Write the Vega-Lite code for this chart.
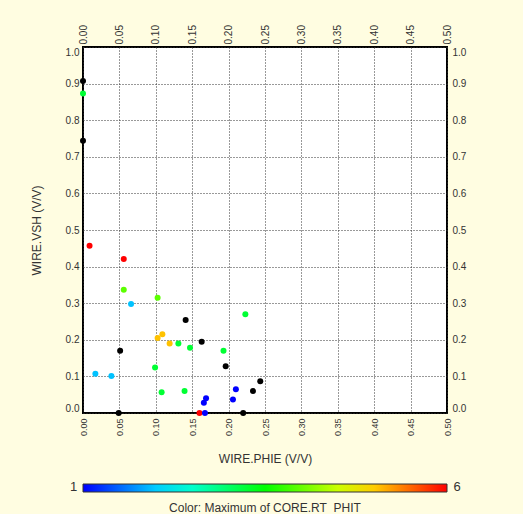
{
  "$schema": "https://vega.github.io/schema/vega-lite/v6.json",
  "width": 364,
  "height": 366,
  "autosize": {"type": "none"},
  "padding": {"left": 83, "top": 47, "right": 76, "bottom": 101},
  "background": "#fffde1",
  "config": {
    "view": {"stroke": "#000000", "strokeWidth": 2, "fill": "#ffffff"},
    "font": "Liberation Sans",
    "axis": {"ticks": false, "domain": false, "labelColor": "#333333", "titleColor": "#333333", "titleFontWeight": "normal", "titleFontSize": 12, "labelFontSize": 10}
  },
  "data": {
    "values": [
      {"phie": 0.0, "vsh": 0.907, "rt": null},
      {"phie": 0.0, "vsh": 0.873, "rt": 3.25},
      {"phie": 0.0, "vsh": 0.744, "rt": null},
      {"phie": 0.009, "vsh": 0.457, "rt": 6.0},
      {"phie": 0.056, "vsh": 0.421, "rt": 6.0},
      {"phie": 0.056, "vsh": 0.337, "rt": 3.95},
      {"phie": 0.066, "vsh": 0.298, "rt": 1.95},
      {"phie": 0.1025, "vsh": 0.315, "rt": 3.95},
      {"phie": 0.141, "vsh": 0.254, "rt": null},
      {"phie": 0.1025, "vsh": 0.205, "rt": 5.05},
      {"phie": 0.109, "vsh": 0.215, "rt": 5.05},
      {"phie": 0.119, "vsh": 0.19, "rt": 5.05},
      {"phie": 0.131, "vsh": 0.19, "rt": 3.25},
      {"phie": 0.147, "vsh": 0.178, "rt": 3.25},
      {"phie": 0.163, "vsh": 0.195, "rt": null},
      {"phie": 0.193, "vsh": 0.17, "rt": 3.25},
      {"phie": 0.223, "vsh": 0.27, "rt": 3.25},
      {"phie": 0.051, "vsh": 0.17, "rt": null},
      {"phie": 0.017, "vsh": 0.107, "rt": 1.95},
      {"phie": 0.039, "vsh": 0.101, "rt": 1.95},
      {"phie": 0.099, "vsh": 0.124, "rt": 3.25},
      {"phie": 0.196, "vsh": 0.128, "rt": null},
      {"phie": 0.108, "vsh": 0.057, "rt": 3.25},
      {"phie": 0.1395, "vsh": 0.06, "rt": 3.25},
      {"phie": 0.166, "vsh": 0.028, "rt": 1.0},
      {"phie": 0.169, "vsh": 0.04, "rt": 1.0},
      {"phie": 0.206, "vsh": 0.037, "rt": 1.0},
      {"phie": 0.21, "vsh": 0.065, "rt": 1.0},
      {"phie": 0.2335, "vsh": 0.06, "rt": null},
      {"phie": 0.2435, "vsh": 0.087, "rt": null},
      {"phie": 0.049, "vsh": 0.0, "rt": null},
      {"phie": 0.16, "vsh": 0.0, "rt": 6.0},
      {"phie": 0.1675, "vsh": 0.0, "rt": 1.0},
      {"phie": 0.22, "vsh": 0.0, "rt": null}
    ]
  },
  "resolve": {"axis": {"x": "independent", "y": "independent"}},
  "layer": [
    {
      "transform": [{"filter": "datum.rt == null"}],
      "mark": {"type": "circle", "size": 36, "opacity": 1, "color": "#000000"},
      "encoding": {
        "x": {
          "field": "phie", "type": "quantitative",
          "scale": {"domain": [0, 0.5], "nice": false},
          "axis": {
            "orient": "top", "title": null, "grid": false,
            "values": [0, 0.05, 0.1, 0.15, 0.2, 0.25, 0.3, 0.35, 0.4, 0.45, 0.5],
            "format": ".2f", "labelAngle": -90, "labelFlush": true, "labelPadding": 3, "labelFontSize": 10
          }
        },
        "y": {
          "field": "vsh", "type": "quantitative",
          "scale": {"domain": [0, 1], "nice": false},
          "axis": {
            "orient": "right", "title": null, "grid": false,
            "values": [0, 0.1, 0.2, 0.3, 0.4, 0.5, 0.6, 0.7, 0.8, 0.9, 1],
            "format": ".1f", "labelFlush": true, "labelPadding": 5, "labelFontSize": 10
          }
        }
      }
    },
    {
      "transform": [{"filter": "datum.rt != null"}],
      "mark": {"type": "circle", "size": 36, "opacity": 1},
      "encoding": {
        "x": {
          "field": "phie", "type": "quantitative",
          "scale": {"domain": [0, 0.5], "nice": false},
          "axis": {
            "orient": "bottom", "title": "WIRE.PHIE (V/V)", "grid": true,
            "gridDash": [1, 2], "gridColor": "#333333", "gridOpacity": 1,
            "values": [0, 0.05, 0.1, 0.15, 0.2, 0.25, 0.3, 0.35, 0.4, 0.45, 0.5],
            "format": ".2f", "labelAngle": -90, "labelFlush": true, "labelPadding": 5, "labelFontSize": 9,
            "titlePadding": 18
          }
        },
        "y": {
          "field": "vsh", "type": "quantitative",
          "scale": {"domain": [0, 1], "nice": false},
          "axis": {
            "orient": "left", "title": "WIRE.VSH (V/V)", "grid": true,
            "gridDash": [1, 2], "gridColor": "#333333", "gridOpacity": 1,
            "values": [0, 0.1, 0.2, 0.3, 0.4, 0.5, 0.6, 0.7, 0.8, 0.9, 1],
            "format": ".1f", "labelFlush": true, "labelPadding": 4, "labelFontSize": 10,
            "titlePadding": 22
          }
        },
        "color": {
          "field": "rt", "type": "quantitative",
          "scale": {"domain": [1, 6], "interpolate": "rgb", "range": ["#0000ff", "#00ffff", "#00ff00", "#ffff00", "#ff0000"]},
          "legend": {
            "orient": "none", "legendX": 0, "legendY": 437, "direction": "horizontal",
            "gradientLength": 364, "gradientThickness": 8,
            "gradientStrokeColor": "#333333", "gradientStrokeWidth": 1,
            "title": "Color: Maximum of CORE.RT_PHIT", "titleOrient": "bottom", "titleAnchor": "middle",
            "titleFontSize": 12, "titleFontWeight": "normal", "titleColor": "#333333", "titlePadding": 9,
            "titleLimit": 400,
            "values": [0.82, 6.19], "labelExpr": "datum.value < 3 ? '1' : '6'",
            "labelFontSize": 13, "labelColor": "#333333", "labelOffset": -11, "labelOverlap": false
          }
        }
      }
    }
  ]
}
